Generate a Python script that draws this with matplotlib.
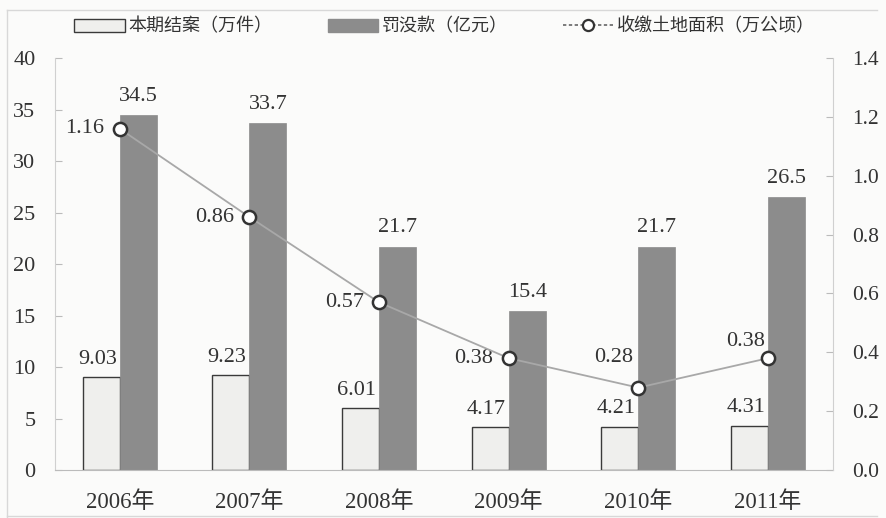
import numpy as np
import matplotlib.pyplot as plt
from matplotlib.lines import Line2D
from matplotlib.patches import Patch

plt.rcParams['font.family'] = ['Liberation Serif', 'Noto Sans CJK SC']

# 数据
annees = ['2006年', '2007年', '2008年', '2009年', '2010年', '2011年']
cas_clos = [9.03, 9.23, 6.01, 4.17, 4.21, 4.31]          # 本期结案（万件）
amendes = [34.5, 33.7, 21.7, 15.4, 21.7, 26.5]           # 罚没款（亿元）
terres = [1.16, 0.86, 0.57, 0.38, 0.28, 0.38]            # 收缴土地面积（万公顷）

x = np.arange(len(annees))
w = 0.285
gris_txt = '#333333'

fig = plt.figure(figsize=(8.86, 5.18), dpi=100)
fig.patch.set_facecolor('#fbfbfa')
ax = fig.add_axes([0.062, 0.0927, 0.878, 0.795])
ax.set_facecolor('none')

ax.bar(x - w/2, cas_clos, w, color='#efefed', edgecolor='#3a3a3a', linewidth=1.0)
ax.bar(x + w/2, amendes, w, color='#8c8c8c', edgecolor='#8c8c8c', linewidth=0.5)

for xi, v in zip(x, cas_clos):
    ax.text(xi - w/2 - 0.03, v + 0.8, f'{v:.2f}', ha='center', va='bottom', fontsize=16, color=gris_txt)
for xi, v in zip(x + w/2, amendes):
    ax.text(xi, v + 0.9, f'{v:.1f}', ha='center', va='bottom', fontsize=16, color=gris_txt)

ax.set_xlim(-0.5, 5.5)
ax.set_ylim(0, 40)
ax.set_yticks(range(0, 41, 5))
ax.set_xticks(x)
ax.set_xticklabels(annees)
ax.tick_params(axis='x', length=0, pad=15, labelsize=16.5, labelcolor=gris_txt)
ax.tick_params(axis='y', direction='in', length=5, pad=14, labelsize=16, labelcolor=gris_txt, color='#bbbbbb')
for s in ['top', 'right']:
    ax.spines[s].set_visible(False)
ax.spines['left'].set_color('#d0d0d0')
ax.spines['bottom'].set_color('#bbbbbb')

ax2 = ax.twinx()
ax2.plot(x, terres, color='#a8a8a8', linewidth=1.3, marker='o', markersize=9.5,
         markerfacecolor='white', markeredgecolor='#333333', markeredgewidth=1.8, zorder=5)
# décalages des étiquettes (points)
decalage = [(-11, 0), (-11, 0), (-11, 0), (-11, 0), (-4, 22), (-2, 12)]
for xi, v, (dx, dy) in zip(x, terres, decalage):
    ax2.annotate(f'{v:.2f}', (xi, v), xytext=(dx, dy), textcoords='offset points',
                 ha='right', va='center', fontsize=16, color=gris_txt)
ax2.set_ylim(0, 1.4)
ax2.set_yticks(np.arange(0, 1.41, 0.2))
ax2.set_yticklabels([f'{t:.1f}' for t in np.arange(0, 1.41, 0.2)])
ax2.tick_params(axis='y', direction='in', length=5, pad=14, labelsize=15.5, labelcolor=gris_txt, color='#bbbbbb')
for s in ['top', 'left', 'bottom']:
    ax2.spines[s].set_visible(False)
ax2.spines['right'].set_color('#d0d0d0')

poignees = [
    Patch(facecolor='#efefed', edgecolor='#3a3a3a', linewidth=1.0),
    Patch(facecolor='#8c8c8c', edgecolor='#8c8c8c'),
    Line2D([], [], color='#666666', linestyle=(0, (2, 1.5)), linewidth=1.2, marker='o', markersize=8,
           markerfacecolor='white', markeredgecolor='#333333', markeredgewidth=1.6),
]
etiquettes = ['本期结案（万件）', '罚没款（亿元）', '收缴土地面积（万公顷）']
fig.legend(poignees, etiquettes, loc='center left', bbox_to_anchor=(0.084, 0.948), ncol=3,
           frameon=False, fontsize=13, handlelength=2.8, handleheight=0.7,
           handletextpad=0.2, columnspacing=3.05, labelcolor=gris_txt, borderpad=0, borderaxespad=0)

fig.add_artist(plt.Line2D([0.008, 0.99], [0.981, 0.981], color='#d8d8d8', linewidth=1))
fig.add_artist(plt.Line2D([0.008, 0.008], [0.0, 0.981], color='#d8d8d8', linewidth=1))
fig.add_artist(plt.Line2D([0.008, 0.99], [0.003, 0.003], color='#d8d8d8', linewidth=1))

fig.savefig('out.png', dpi=100, facecolor=fig.get_facecolor())
